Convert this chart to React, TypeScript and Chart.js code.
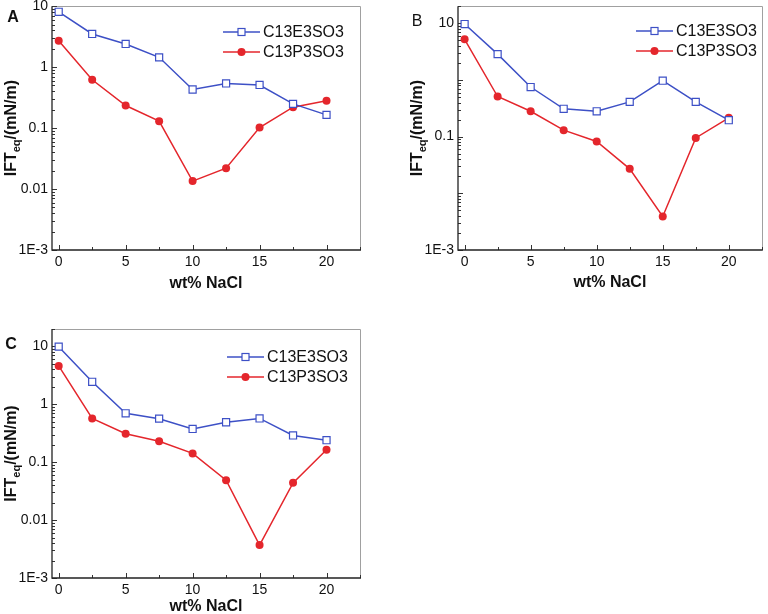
import React, { useEffect, useRef } from 'react';
import { Chart, registerables } from 'chart.js';
Chart.register(...registerables);

// ---- data ----
const naclWt = [0, 2.5, 5, 7.5, 10, 12.5, 15, 17.5, 20];
const seriesNames = ['C13E3SO3', 'C13P3SO3'];

const panelA_E3 = [8.1, 3.5, 2.4, 1.45, 0.43, 0.54, 0.51, 0.25, 0.165];
const panelA_P3 = [2.7, 0.62, 0.235, 0.13, 0.0135, 0.022, 0.102, 0.22, 0.28];
const panelB_E3 = [9.7, 2.85, 0.75, 0.31, 0.28, 0.41, 0.97, 0.41, 0.195];
const panelB_P3 = [5.2, 0.51, 0.28, 0.13, 0.082, 0.027, 0.0039, 0.095, 0.215];
const panelC_E3 = [9.9, 2.45, 0.7, 0.565, 0.375, 0.49, 0.57, 0.29, 0.24];
const panelC_P3 = [4.6, 0.57, 0.31, 0.23, 0.142, 0.049, 0.0037, 0.044, 0.164];

const xTickValues = [0, 2.5, 5, 7.5, 10, 12.5, 15, 17.5, 20, 22.5];
const xTickLabels = ['0', '', '5', '', '10', '', '15', '', '20', ''];
const yDecades = [0.001, 0.01, 0.1, 1, 10];
const yDecadeLabelsAC = ['1E-3', '0.01', '0.1', '1', '10'];
const yDecadeLabelsB = ['1E-3', '', '0.1', '', '10'];

const xTitle = 'wt% NaCl';

// ---- styles / layout ----
const FONT = '"Liberation Sans", Arial, Helvetica, sans-serif';
const BLUE = '#3d50c6';
const RED = '#e4262c';

type Panel = {
  letter: string;
  letterBold: boolean;
  e3: number[];
  p3: number[];
  yMax: number;
  yLabels: string[];
  canvas: { x: number; y: number; w: number; h: number };
  area: { l: number; t: number; r: number; b: number };
  legend: { x: number; y: number };
  letterPos: { x: number; y: number };
  xTitleOffset: number;
};

const panels: Panel[] = [
  {
    letter: 'A', letterBold: true, e3: panelA_E3, p3: panelA_P3, yMax: 10, yLabels: yDecadeLabelsAC,
    canvas: { x: 0, y: 0, w: 384, h: 307 }, area: { l: 52, t: 6, r: 360, b: 250 },
    legend: { x: 223, y: 32 }, letterPos: { x: 13, y: 18 }, xTitleOffset: 34,
  },
  {
    letter: 'B', letterBold: false, e3: panelB_E3, p3: panelB_P3, yMax: 20, yLabels: yDecadeLabelsB,
    canvas: { x: 384, y: 0, w: 384, h: 307 }, area: { l: 458, t: 3, r: 764, b: 250 },
    legend: { x: 636, y: 31 }, letterPos: { x: 417, y: 22 }, xTitleOffset: 33,
  },
  {
    letter: 'C', letterBold: true, e3: panelC_E3, p3: panelC_P3, yMax: 20, yLabels: yDecadeLabelsAC,
    canvas: { x: 0, y: 307, w: 384, h: 307 }, area: { l: 52, t: 329, r: 360, b: 578 },
    legend: { x: 227, y: 357 }, letterPos: { x: 11, y: 345 }, xTitleOffset: 29,
  },
];

function isDecade(v: number) {
  const l = Math.log10(v);
  return Math.abs(l - Math.round(l)) < 1e-9;
}

function yTickValues(max: number) {
  const out: number[] = [];
  for (let k = -3; k <= 1; k++) {
    for (let m = 1; m <= 9; m++) {
      const v = parseFloat((m * Math.pow(10, k)).toPrecision(3));
      if (v <= max * 1.0001) out.push(v);
    }
  }
  return out;
}

function makePlugin(p: Panel) {
  const ox = p.canvas.x;
  const oy = p.canvas.y;
  return {
    id: 'decor' + p.letter,
    beforeDatasetsDraw(chart: any) {
      const { ctx, chartArea: ca } = chart;
      const xs = chart.scales.x;
      const ys = chart.scales.y;
      ctx.save();
      ctx.lineWidth = 1;
      ctx.strokeStyle = '#a0a0a0';
      ctx.beginPath();
      ctx.moveTo(ca.left, Math.round(ca.top) + 0.5);
      ctx.lineTo(Math.round(ca.right) + 0.5, Math.round(ca.top) + 0.5);
      ctx.lineTo(Math.round(ca.right) + 0.5, ca.bottom);
      ctx.stroke();

      ctx.strokeStyle = '#333';
      ctx.beginPath();
      ys.ticks.forEach((t: any) => {
        const y = Math.round(ys.getPixelForValue(t.value)) + 0.5;
        const len = isDecade(t.value) ? 5 : 3;
        ctx.moveTo(ca.left, y);
        ctx.lineTo(ca.left + len, y);
      });
      xs.ticks.forEach((t: any, i: number) => {
        const x = Math.round(xs.getPixelForValue(t.value)) + 0.5;
        const len = xTickLabels[i] ? 5 : 3;
        ctx.moveTo(x, ca.bottom);
        ctx.lineTo(x, ca.bottom - len);
      });
      ctx.stroke();

      ctx.strokeStyle = '#222';
      ctx.lineWidth = 1.3;
      ctx.beginPath();
      ctx.moveTo(ca.left, ca.top);
      ctx.lineTo(ca.left, ca.bottom);
      ctx.lineTo(ca.right + 1, ca.bottom);
      ctx.stroke();
      ctx.restore();
    },
    afterDraw(chart: any) {
      const { ctx, chartArea: ca } = chart;
      ctx.save();
      // legend
      const ds = chart.data.datasets;
      ds.forEach((d: any, i: number) => {
        const y = p.legend.y - oy + i * 20;
        const x0 = p.legend.x - ox;
        ctx.strokeStyle = d.borderColor;
        ctx.lineWidth = 1.5;
        ctx.beginPath();
        ctx.moveTo(x0, y);
        ctx.lineTo(x0 + 37, y);
        ctx.stroke();
        const cx = x0 + 18.5;
        if (d.pointStyle === 'rect') {
          ctx.fillStyle = '#fff';
          ctx.lineWidth = 1.2;
          ctx.fillRect(cx - 3.5, y - 3.5, 7, 7);
          ctx.strokeRect(cx - 3.5, y - 3.5, 7, 7);
        } else {
          ctx.fillStyle = d.borderColor;
          ctx.beginPath();
          ctx.arc(cx, y, 4, 0, Math.PI * 2);
          ctx.fill();
        }
        ctx.fillStyle = '#111';
        ctx.font = `16px ${FONT}`;
        ctx.textAlign = 'left';
        ctx.textBaseline = 'middle';
        ctx.fillText(d.label, x0 + 40, y + 1);
      });
      // x title
      ctx.fillStyle = '#111';
      ctx.font = `bold 16px ${FONT}`;
      ctx.textAlign = 'center';
      ctx.textBaseline = 'middle';
      ctx.fillText(xTitle, (ca.left + ca.right) / 2, ca.bottom + p.xTitleOffset);
      // y title with subscript
      ctx.save();
      ctx.translate(ca.left - 40, (ca.top + ca.bottom) / 2);
      ctx.rotate(-Math.PI / 2);
      ctx.textAlign = 'left';
      ctx.textBaseline = 'middle';
      const f1 = `bold 16px ${FONT}`;
      const f2 = `bold 11px ${FONT}`;
      ctx.font = f1;
      const w1 = ctx.measureText('IFT').width;
      const w3 = ctx.measureText('/(mN/m)').width;
      ctx.font = f2;
      const w2 = ctx.measureText('eq').width;
      const x0 = -(w1 + w2 + w3) / 2;
      ctx.font = f1;
      ctx.fillText('IFT', x0, 0);
      ctx.font = f2;
      ctx.fillText('eq', x0 + w1, 5);
      ctx.font = f1;
      ctx.fillText('/(mN/m)', x0 + w1 + w2, 0);
      ctx.restore();
      // panel letter
      ctx.font = `${p.letterBold ? 'bold ' : ''}16px ${FONT}`;
      ctx.textAlign = 'center';
      ctx.textBaseline = 'middle';
      ctx.fillText(p.letter, p.letterPos.x - ox, p.letterPos.y - oy);
      ctx.restore();
    },
  };
}

function PanelChart({ p }: { p: Panel }) {
  const ref = useRef<HTMLCanvasElement | null>(null);
  useEffect(() => {
    if (!ref.current) return;
    const a = p.area;
    const c = p.canvas;
    const yW = a.l - c.x;
    const xH = c.y + c.h - a.b;
    const yVals = yTickValues(p.yMax);
    const labelFor = (v: number) => {
      const idx = yDecades.findIndex((d) => Math.abs(d - v) / d < 1e-6);
      return idx >= 0 ? p.yLabels[idx] : '';
    };
    const chart = new Chart(ref.current, {
      type: 'scatter',
      data: {
        datasets: [
          {
            label: seriesNames[0],
            data: naclWt.map((x, i) => ({ x, y: p.e3[i] })),
            showLine: true,
            borderColor: BLUE,
            backgroundColor: '#ffffff',
            borderWidth: 1.5,
            pointStyle: 'rect',
            pointRadius: 5,
            pointBorderWidth: 1.2,
            pointBorderColor: BLUE,
            pointBackgroundColor: '#ffffff',
          },
          {
            label: seriesNames[1],
            data: naclWt.map((x, i) => ({ x, y: p.p3[i] })),
            showLine: true,
            borderColor: RED,
            backgroundColor: RED,
            borderWidth: 1.5,
            pointStyle: 'circle',
            pointRadius: 4,
            pointBorderWidth: 0,
            pointBackgroundColor: RED,
          },
        ],
      },
      options: {
        responsive: false,
        animation: false,
        events: [],
        layout: { padding: { left: 0, top: a.t - c.y, right: c.x + c.w - a.r, bottom: 0 } },
        plugins: { legend: { display: false }, tooltip: { enabled: false } },
        scales: {
          x: {
            type: 'linear',
            min: -0.5,
            max: 22.5,
            grid: { display: true, drawOnChartArea: false, drawTicks: false },
            border: { display: false },
            afterBuildTicks: (s: any) => {
              s.ticks = xTickValues.map((v) => ({ value: v }));
            },
            afterFit: (s: any) => {
              s.height = xH;
              s.paddingLeft = 0;
              s.paddingRight = 0;
            },
            ticks: {
              autoSkip: false,
              maxRotation: 0,
              padding: 4,
              color: '#111',
              font: { family: FONT, size: 14 },
              callback: (_v: any, i: number) => xTickLabels[i],
            },
          },
          y: {
            type: 'logarithmic',
            min: 0.001,
            max: p.yMax,
            grid: { display: true, drawOnChartArea: false, drawTicks: false },
            border: { display: false },
            afterBuildTicks: (s: any) => {
              s.ticks = yVals.map((v) => ({ value: v }));
            },
            afterFit: (s: any) => {
              s.width = yW;
              s.paddingTop = 0;
              s.paddingBottom = 0;
            },
            ticks: {
              autoSkip: false,
              padding: 4,
              color: '#111',
              font: { family: FONT, size: 14 },
              callback: (v: any) => labelFor(Number(v)),
            },
          },
        },
      } as any,
      plugins: [makePlugin(p) as any],
    });
    return () => chart.destroy();
  }, [p]);
  return (
    <canvas
      ref={ref}
      width={p.canvas.w}
      height={p.canvas.h}
      style={{ position: 'absolute', left: p.canvas.x, top: p.canvas.y, width: p.canvas.w, height: p.canvas.h }}
    />
  );
}

export default function App() {
  return (
    <div style={{ position: 'absolute', left: 0, top: 0, width: 768, height: 614, background: '#fff', overflow: 'hidden' }}>
      {panels.map((p) => (
        <PanelChart key={p.letter} p={p} />
      ))}
    </div>
  );
}
